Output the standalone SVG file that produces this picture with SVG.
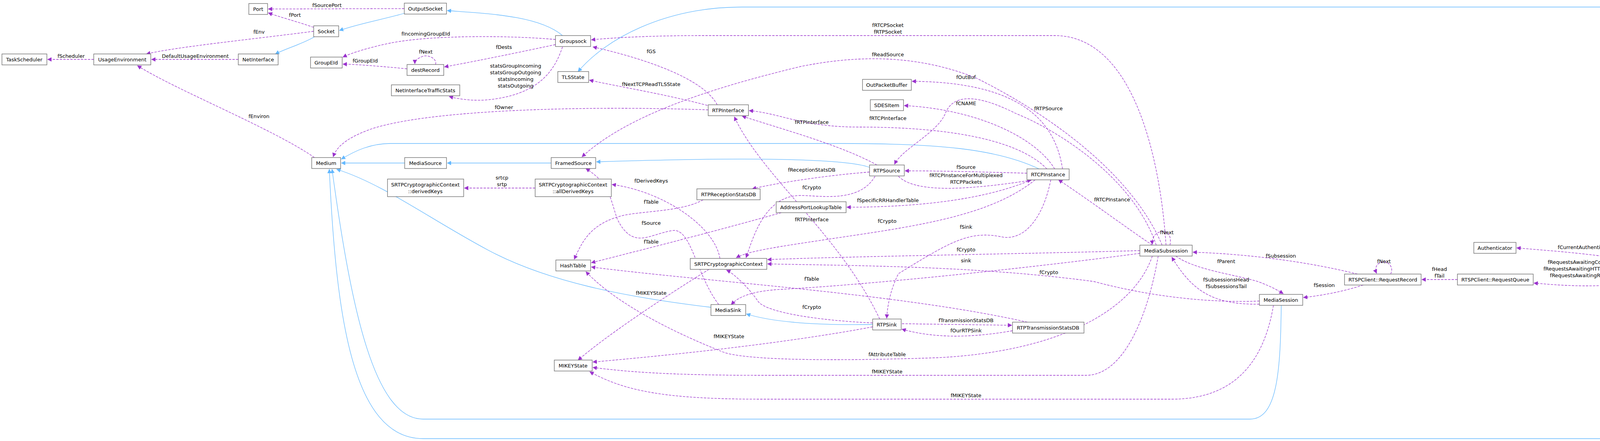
<svg xmlns="http://www.w3.org/2000/svg" width="4631" height="1128" viewBox="0 0 4631 1128">
<defs>
<style>
.n rect{fill:#fff;stroke:#666;stroke-width:1.3}
.n text,.l{font-family:"DejaVu Sans",sans-serif;font-size:13px;fill:#000;text-anchor:middle}
.u{fill:none;stroke:#9a32cd;stroke-width:1.3;stroke-dasharray:6,3;marker-end:url(#mp)}
.i{fill:none;stroke:#63b8ff;stroke-width:1.3;marker-end:url(#mb)}
</style>
<marker id="mp" viewBox="0 0 10 10" refX="9" refY="5" markerWidth="11" markerHeight="11" markerUnits="userSpaceOnUse" orient="auto"><path d="M0,0L10,5L0,10z" fill="#9a32cd"/></marker>
<marker id="mb" viewBox="0 0 10 10" refX="9" refY="5" markerWidth="11" markerHeight="11" markerUnits="userSpaceOnUse" orient="auto"><path d="M0,0L10,5L0,10z" fill="#63b8ff"/></marker>
</defs>
<rect width="4631" height="1128" fill="#fff"/>
<g id="connectors">
<path class="i" d="M1035,34C980,50 920,60 869,78"/>
<path class="i" d="M1440,91C1380,40 1250,35 1145,27"/>
<path class="i" d="M805,94C780,110 730,125 705,138"/>
<path class="i" d="M1036,417L874,417"/>
<path class="i" d="M1411,417L1145,417"/>
<path class="i" d="M2226,428C2150,400 1800,405 1527,414"/>
<path class="i" d="M2660,432C2550,380 2400,367 2150,367L1000,367C950,367 910,385 874,407"/>
<path class="i" d="M1820,786C1600,760 1400,720 1250,640C1100,560 980,470 862,433"/>
<path class="i" d="M2234,830C2100,832 1980,825 1911,803"/>
<path class="i" d="M3280,781C3278,950 3270,1072 3200,1072L1083,1072C960,1072 900,800 850,433"/>
<path class="i" d="M4228,689C4210,850 4195,1122 4100,1122L1083,1122C900,1122 860,800 843,433"/>
<path class="i" d="M4490,637C4400,500 4367,300 4367,100C4367,40 4330,18 4250,18L1900,18C1700,18 1550,100 1480,183"/>
<path class="i" d="M4435,562C4340,570 4260,610 4247,661"/>

<path class="u" d="M1035,22L687,23"/>
<path class="u" d="M803,70C760,55 720,45 687,33"/>
<path class="u" d="M803,80C650,100 450,120 375,138"/>
<path class="u" d="M240,152L122,152"/>
<path class="u" d="M610,152L388,152"/>
<path class="u" d="M805,403C700,330 450,230 352,168"/>
<path class="u" d="M1422,101C1300,90 1100,90 1000,110C950,120 900,135 878,146"/>
<path class="u" d="M1422,114C1300,140 1200,160 1138,171"/>
<path class="u" d="M1115,165C1120,150 1095,138 1080,145C1068,150 1062,155 1062,163"/>
<path class="u" d="M1042,176C980,170 920,165 878,164"/>
<path class="u" d="M1440,120C1420,180 1380,245 1240,256C1200,258 1170,252 1150,247"/>
<path class="u" d="M1813,281C1500,270 1100,280 950,330C880,355 860,380 853,401"/>
<path class="u" d="M1370,481L1189,481"/>
<path class="u" d="M1836,268C1800,200 1650,150 1518,120"/>
<path class="u" d="M1820,272C1700,240 1600,225 1509,205"/>
<path class="u" d="M2985,627C2970,400 2900,91 2700,91L1800,91C1650,91 1550,98 1514,102"/>
<path class="u" d="M2975,627C2900,450 2700,300 2500,200C2350,140 2200,140 2050,170C1800,230 1600,300 1490,401"/>
<path class="u" d="M2720,432C2700,300 2600,210 2335,208"/>
<path class="u" d="M2700,432C2650,350 2500,280 2315,270"/>
<path class="u" d="M2960,627C2900,450 2700,330 2600,290C2500,240 2440,240 2420,290C2400,340 2310,380 2290,420"/>
<path class="u" d="M2680,432C2600,350 2400,325 2200,325C2050,325 2000,290 1918,283"/>
<path class="u" d="M2245,422C2150,370 2000,330 1900,297"/>
<path class="u" d="M2629,443C2520,440 2420,437 2317,437"/>
<path class="u" d="M2300,451C2340,490 2450,490 2640,461"/>
<path class="u" d="M2226,440C2100,450 1980,470 1926,483"/>
<path class="u" d="M1843,661C1830,580 1700,490 1567,472"/>
<path class="u" d="M2240,451C2200,520 2100,500 2050,500C1960,500 1930,600 1910,659"/>
<path class="u" d="M2640,460C2500,520 2300,530 2168,530"/>
<path class="u" d="M1800,511C1750,540 1650,540 1600,550C1510,570 1490,620 1470,663"/>
<path class="u" d="M1840,779C1780,700 1770,580 1720,590C1660,600 1620,640 1580,560C1560,500 1560,470 1500,431"/>
<path class="u" d="M2252,816C2150,600 1950,450 1880,299"/>
<path class="u" d="M2650,460C2550,540 2400,570 2200,600C2000,630 1920,640 1885,659"/>
<path class="u" d="M2690,460C2670,560 2620,620 2560,605C2480,590 2430,620 2300,700C2280,740 2272,780 2270,814"/>
<path class="u" d="M2000,544C1800,600 1600,650 1514,672"/>
<path class="u" d="M2918,641C2600,650 2200,655 1965,664"/>
<path class="u" d="M2918,648C2600,690 2200,730 2000,740C1920,745 1890,760 1872,779"/>
<path class="u" d="M3224,770C3100,775 2950,760 2800,720C2500,680 2200,680 1965,675"/>
<path class="u" d="M2630,824C2300,750 1800,720 1514,683"/>
<path class="u" d="M1815,689C1700,760 1550,860 1480,921"/>
<path class="u" d="M2234,826C2100,820 1960,800 1940,770C1920,740 1880,700 1860,691"/>
<path class="u" d="M2309,828L2590,832"/>
<path class="u" d="M2592,846C2500,862 2400,868 2309,842"/>
<path class="u" d="M2234,836C2000,880 1700,910 1518,926"/>
<path class="u" d="M2950,655C2900,800 2700,900 2400,915C2100,925 1900,920 1850,900C1800,880 1600,800 1500,695"/>
<path class="u" d="M2965,655C2940,800 2880,960 2780,960L1950,960C1700,960 1600,950 1518,940"/>
<path class="u" d="M3260,781C3240,900 3180,1021 3000,1021L1950,1021C1700,1021 1600,1000 1510,951"/>
<path class="u" d="M2950,627C2880,580 2800,520 2710,460"/>
<path class="u" d="M2995,627C3000,605 2990,590 2975,592C2960,594 2948,605 2950,625"/>
<path class="u" d="M3475,701C3350,670 3200,650 3054,645"/>
<path class="u" d="M3010,655C3060,690 3150,700 3220,720C3260,735 3275,745 3285,751"/>
<path class="u" d="M3224,778C3100,780 3050,740 3000,658"/>
<path class="u" d="M3560,701C3570,680 3550,668 3540,670C3525,672 3518,685 3524,699"/>
<path class="u" d="M3731,715L3640,715"/>
<path class="u" d="M3490,729C3440,745 3390,755 3337,761"/>
<path class="u" d="M4190,670C4100,650 3950,640 3883,634"/>
<path class="u" d="M4215,689C4200,730 4100,740 3927,724"/>
<path class="u" d="M4284,670C4350,660 4410,656 4470,654"/>
<path class="u" d="M4495,665C4450,700 4350,705 4284,687"/>
</g>
<g class="l">
<text class="l" x="837" y="18">fSourcePort</text>
<text class="l" x="755" y="43">fPort</text>
<text class="l" x="663" y="86">fEnv</text>
<text class="l" x="182" y="148">fScheduler</text>
<text class="l" x="500" y="148">DefaultUsageEnvironment</text>
<text class="l" x="663" y="302">fEnviron</text>
<text class="l" x="1090" y="91">fIncomingGroupEId</text>
<text class="l" x="1290" y="125">fDests</text>
<text class="l" x="1090" y="137">fNext</text>
<text class="l" x="935" y="160">fGroupEId</text>
<text class="l" x="1320" y="173">statsGroupIncoming</text>
<text class="l" x="1320" y="190">statsGroupOutgoing</text>
<text class="l" x="1320" y="207">statsIncoming</text>
<text class="l" x="1320" y="224">statsOutgoing</text>
<text class="l" x="1290" y="279">fOwner</text>
<text class="l" x="1285" y="459">srtcp</text>
<text class="l" x="1285" y="476">srtp</text>
<text class="l" x="2273" y="69">fRTCPSocket</text>
<text class="l" x="2273" y="86">fRTPSocket</text>
<text class="l" x="1667" y="136">fGS</text>
<text class="l" x="2273" y="144">fReadSource</text>
<text class="l" x="2473" y="202">fOutBuf</text>
<text class="l" x="1667" y="220">fNextTCPReadTLSState</text>
<text class="l" x="2473" y="269">fCNAME</text>
<text class="l" x="2684" y="282">fRTPSource</text>
<text class="l" x="2273" y="307">fRTCPInterface</text>
<text class="l" x="2078" y="317">fRTPInterface</text>
<text class="l" x="2473" y="432">fSource</text>
<text class="l" x="2473" y="453">fRTCPInstanceForMultiplexed</text>
<text class="l" x="2473" y="470">RTCPPackets</text>
<text class="l" x="2078" y="439">fReceptionStatsDB</text>
<text class="l" x="1667" y="467">fDerivedKeys</text>
<text class="l" x="2078" y="484">fCrypto</text>
<text class="l" x="2273" y="517">fSpecificRRHandlerTable</text>
<text class="l" x="1667" y="521">fTable</text>
<text class="l" x="2078" y="566">fRTPInterface</text>
<text class="l" x="2271" y="570">fCrypto</text>
<text class="l" x="1667" y="575">fSource</text>
<text class="l" x="2473" y="585">fSink</text>
<text class="l" x="1667" y="623">fTable</text>
<text class="l" x="2473" y="643">fCrypto</text>
<text class="l" x="2473" y="671">sink</text>
<text class="l" x="2685" y="701">fCrypto</text>
<text class="l" x="2078" y="718">fTable</text>
<text class="l" x="1667" y="754">fMIKEYState</text>
<text class="l" x="2078" y="790">fCrypto</text>
<text class="l" x="2473" y="824">fTransmissionStatsDB</text>
<text class="l" x="2473" y="850">fOurRTPSink</text>
<text class="l" x="1866" y="865">fMIKEYState</text>
<text class="l" x="2271" y="911">fAttributeTable</text>
<text class="l" x="2271" y="955">fMIKEYState</text>
<text class="l" x="2473" y="1016">fMIKEYState</text>
<text class="l" x="2847" y="515">fRTCPInstance</text>
<text class="l" x="2987" y="599">fNext</text>
<text class="l" x="3279" y="659">fSubsession</text>
<text class="l" x="3139" y="673">fParent</text>
<text class="l" x="3543" y="673">fNext</text>
<text class="l" x="3685" y="693">fHead</text>
<text class="l" x="3685" y="710">fTail</text>
<text class="l" x="3139" y="720">fSubsessionsHead</text>
<text class="l" x="3139" y="737">fSubsessionsTail</text>
<text class="l" x="3390" y="734">fSession</text>
<text class="l" x="4059" y="637">fCurrentAuthenticator</text>
<text class="l" x="4059" y="675">fRequestsAwaitingConnection</text>
<text class="l" x="4059" y="692">fRequestsAwaitingHTTPTunneling</text>
<text class="l" x="4059" y="709">fRequestsAwaitingResponse</text>
<text class="l" x="4359" y="605">fInputTLS</text>
<text class="l" x="4359" y="622">fOutputTLS</text>
<text class="l" x="4359" y="639">fPOSTSocketTLS</text>
<text class="l" x="4359" y="656">fTLS</text>
<text class="l" x="4359" y="687">fClient</text>
</g>
<g id="Port" class="n"><rect x="637" y="9" width="48" height="28"/><text x="661" y="28">Port</text></g>
<g id="OutputSocket" class="n"><rect x="1035" y="8" width="108" height="28"/><text x="1089" y="27">OutputSocket</text></g>
<g id="Socket" class="n"><rect x="803" y="66" width="64" height="28"/><text x="835" y="85">Socket</text></g>
<g id="TaskScheduler" class="n"><rect x="5" y="138" width="115" height="28"/><text x="62" y="157">TaskScheduler</text></g>
<g id="UsageEnvironment" class="n"><rect x="240" y="138" width="146" height="28"/><text x="313" y="157">UsageEnvironment</text></g>
<g id="NetInterface" class="n"><rect x="610" y="138" width="102" height="28"/><text x="661" y="157">NetInterface</text></g>
<g id="GroupEId" class="n"><rect x="795" y="146" width="81" height="28"/><text x="835" y="165">GroupEId</text></g>
<g id="destRecord" class="n"><rect x="1042" y="165" width="94" height="28"/><text x="1089" y="184">destRecord</text></g>
<g id="NetInterfaceTrafficStats" class="n"><rect x="1002" y="217" width="175" height="28"/><text x="1089" y="236">NetInterfaceTrafficStats</text></g>
<g id="Medium" class="n"><rect x="798" y="403" width="74" height="28"/><text x="835" y="422">Medium</text></g>
<g id="MediaSource" class="n"><rect x="1036" y="403" width="107" height="28"/><text x="1089" y="422">MediaSource</text></g>
<g id="derivedKeys" class="n"><rect x="992" y="458" width="195" height="45"/><text x="1089" y="477">SRTPCryptographicContext</text><text x="1089" y="494">::derivedKeys</text></g>
<g id="Groupsock" class="n"><rect x="1422" y="91" width="90" height="28"/><text x="1467" y="110">Groupsock</text></g>
<g id="TLSState" class="n"><rect x="1428" y="183" width="79" height="28"/><text x="1467" y="202">TLSState</text></g>
<g id="OutPacketBuffer" class="n"><rect x="2208" y="203" width="125" height="28"/><text x="2270" y="222">OutPacketBuffer</text></g>
<g id="SDESItem" class="n"><rect x="2228" y="255" width="85" height="28"/><text x="2270" y="274">SDESItem</text></g>
<g id="RTPInterface" class="n"><rect x="1813" y="268" width="103" height="28"/><text x="1864" y="287">RTPInterface</text></g>
<g id="FramedSource" class="n"><rect x="1411" y="403" width="114" height="28"/><text x="1468" y="422">FramedSource</text></g>
<g id="RTPSource" class="n"><rect x="2226" y="422" width="89" height="28"/><text x="2270" y="441">RTPSource</text></g>
<g id="RTCPInstance" class="n"><rect x="2629" y="432" width="108" height="28"/><text x="2683" y="451">RTCPInstance</text></g>
<g id="allDerivedKeys" class="n"><rect x="1370" y="458" width="195" height="45"/><text x="1467" y="477">SRTPCryptographicContext</text><text x="1467" y="494">::allDerivedKeys</text></g>
<g id="RTPReceptionStatsDB" class="n"><rect x="1784" y="483" width="162" height="28"/><text x="1865" y="502">RTPReceptionStatsDB</text></g>
<g id="AddressPortLookupTable" class="n"><rect x="1987" y="516" width="179" height="28"/><text x="2076" y="535">AddressPortLookupTable</text></g>
<g id="HashTable" class="n"><rect x="1423" y="665" width="89" height="28"/><text x="1467" y="684">HashTable</text></g>
<g id="SRTPCryptographicContext" class="n"><rect x="1767" y="661" width="196" height="28"/><text x="1865" y="680">SRTPCryptographicContext</text></g>
<g id="MediaSink" class="n"><rect x="1820" y="779" width="89" height="28"/><text x="1864" y="798">MediaSink</text></g>
<g id="RTPSink" class="n"><rect x="2234" y="816" width="73" height="28"/><text x="2270" y="835">RTPSink</text></g>
<g id="RTPTransmissionStatsDB" class="n"><rect x="2592" y="824" width="183" height="28"/><text x="2683" y="843">RTPTransmissionStatsDB</text></g>
<g id="MIKEYState" class="n"><rect x="1419" y="921" width="97" height="28"/><text x="1467" y="940">MIKEYState</text></g>
<g id="MediaSubsession" class="n"><rect x="2918" y="627" width="134" height="28"/><text x="2985" y="646">MediaSubsession</text></g>
<g id="RequestRecord" class="n"><rect x="3442" y="701" width="196" height="28"/><text x="3540" y="720">RTSPClient::RequestRecord</text></g>
<g id="RequestQueue" class="n"><rect x="3731" y="701" width="194" height="28"/><text x="3828" y="720">RTSPClient::RequestQueue</text></g>
<g id="MediaSession" class="n"><rect x="3224" y="753" width="111" height="28"/><text x="3279" y="772">MediaSession</text></g>
<g id="Authenticator" class="n"><rect x="3773" y="620" width="108" height="28"/><text x="3827" y="639">Authenticator</text></g>
<g id="RTSPClient" class="n"><rect x="4190" y="661" width="92" height="28"/><text x="4236" y="680">RTSPClient</text></g>
<g id="ClientTLSState" class="n"><rect x="4472" y="637" width="115" height="28"/><text x="4529" y="656">ClientTLSState</text></g>
<g id="RTSPRegisterOrDeregisterSender" class="n"><rect x="4435" y="540" width="190" height="45" style="fill:#999"/><text x="4530" y="559">RTSPRegisterOrDeregister</text><text x="4530" y="576">Sender</text></g>
</svg>
